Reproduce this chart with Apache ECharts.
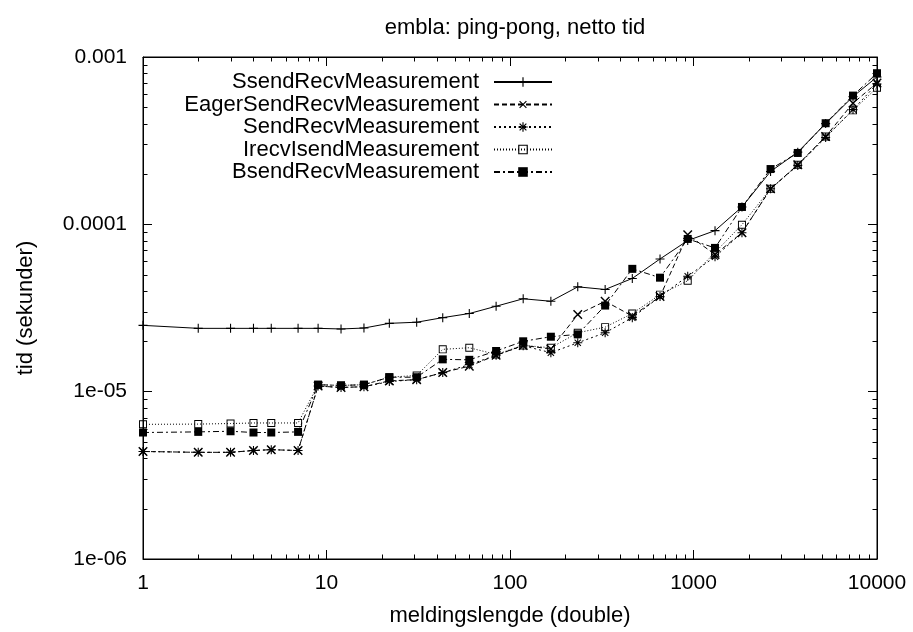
<!DOCTYPE html>
<html><head><meta charset="utf-8">
<script src="https://cdn.jsdelivr.net/npm/echarts@6/dist/echarts.min.js"></script>
<style>html,body{margin:0;padding:0;background:#fff}#c{width:913px;height:632px}</style>
</head><body><div id="c"></div>
<script>
const sizes = [1,2,3,4,5,7,9,12,16,22,31,43,60,84,118,167,234,330,464,657,930,1310,1837,2630,3700,5250,7400,10000];
const ssend = [2.49e-5,2.39e-5,2.39e-5,2.39e-5,2.39e-5,2.39e-5,2.39e-5,2.37e-5,2.4e-5,2.56e-5,2.6e-5,2.77e-5,2.93e-5,3.24e-5,3.59e-5,3.47e-5,4.23e-5,4.08e-5,4.75e-5,6.21e-5,8.0e-5,9.17e-5,1.27e-4,2.07e-4,2.7e-4,4.0e-4,5.8e-4,7.6e-4];
const eager = [4.39e-6,4.34e-6,4.34e-6,4.45e-6,4.5e-6,4.45e-6,1.08e-5,1.06e-5,1.07e-5,1.16e-5,1.18e-5,1.3e-5,1.42e-5,1.65e-5,1.89e-5,1.8e-5,2.89e-5,3.47e-5,2.83e-5,3.7e-5,8.67e-5,6.6e-5,8.9e-5,1.63e-4,2.27e-4,3.35e-4,5.3e-4,7.0e-4];
const sendr = [4.39e-6,4.34e-6,4.34e-6,4.45e-6,4.5e-6,4.45e-6,1.08e-5,1.06e-5,1.07e-5,1.15e-5,1.18e-5,1.3e-5,1.45e-5,1.65e-5,1.88e-5,1.71e-5,1.96e-5,2.25e-5,2.77e-5,3.7e-5,4.9e-5,6.4e-5,8.9e-5,1.63e-4,2.25e-4,3.3e-4,4.85e-4,6.9e-4];
const irecv = [6.38e-6,6.4e-6,6.45e-6,6.5e-6,6.5e-6,6.5e-6,1.1e-5,1.09e-5,1.1e-5,1.22e-5,1.25e-5,1.79e-5,1.83e-5,1.67e-5,1.89e-5,1.83e-5,2.25e-5,2.43e-5,2.93e-5,3.8e-5,4.6e-5,6.8e-5,9.95e-5,1.63e-4,2.27e-4,3.35e-4,4.8e-4,6.56e-4];
const bsend = [5.7e-6,5.75e-6,5.8e-6,5.7e-6,5.7e-6,5.75e-6,1.1e-5,1.09e-5,1.1e-5,1.22e-5,1.22e-5,1.56e-5,1.55e-5,1.75e-5,2.0e-5,2.13e-5,2.2e-5,3.27e-5,5.42e-5,4.8e-5,8.18e-5,7.23e-5,1.27e-4,2.14e-4,2.67e-4,4.02e-4,5.88e-4,8.0e-4];
const seriesNames = ['SsendRecvMeasurement','EagerSendRecvMeasurement','SendRecvMeasurement','IrecvIsendMeasurement','BsendRecvMeasurement'];
const xTickLabels = {'0':'1','1':'10','2':'100','3':'1000','4':'10000'};
const yTickLabels = {'-6':'1e-06','-5':'1e-05','-4':'0.0001','-3':'0.001'};
const xMinor = [2,3,4,5,6,7,8,9,20,30,40,50,60,70,80,90,200,300,400,500,600,700,800,900,2000,3000,4000,5000,6000,7000,8000,9000];
const yMinor = [2e-6,3e-6,4e-6,5e-6,6e-6,7e-6,8e-6,9e-6,2e-5,3e-5,4e-5,5e-5,6e-5,7e-5,8e-5,9e-5,2e-4,3e-4,4e-4,5e-4,6e-4,7e-4,8e-4,9e-4];

const FONT = 'Liberation Sans, Arial, Helvetica, sans-serif';
const X_MIN = 1, X_MAX = 10000, Y_MIN = 1e-6, Y_MAX = 1e-3;
const P_PLUS = 'path://M4.4,0H5.6V4.4H10V5.6H5.6V10H4.4V5.6H0V4.4H4.4Z';
const P_STAR = 'path://M4.4,0H5.6V4.4H10V5.6H5.6V10H4.4V5.6H0V4.4H4.4Z M1.92,1.08L8.92,8.08L8.08,8.92L1.08,1.92Z M8.92,1.92L1.92,8.92L1.08,8.08L8.08,1.08Z';
const P_BOX = 'path://M0,0H10V10H0Z M1.2,1.2V8.8H8.8V1.2Z';
const MINOR_LEN = 4.5;

function pairs(ys){ return sizes.map((x,i)=>[x, ys[i]]); }

function mkLine(name, ys, symbol, size, dash, rot){
  return {
    name, type:'line', data: pairs(ys), symbol, symbolSize: size, symbolRotate: rot||0,
    showSymbol:true, showAllSymbol:true, animation:false,
    itemStyle:{color:'#000'},
    lineStyle:{color:'#000', width:1, type: dash},
    emphasis:{disabled:true}
  };
}

const chart = echarts.init(document.getElementById('c'), null, {renderer:'canvas'});
const axisCommon = {
  type:'log', logBase:10,
  axisLine:{show:true, lineStyle:{color:'#000', width:1}},
  axisTick:{show:true, inside:true, length:9, lineStyle:{color:'#000', width:1}},
  splitLine:{show:false}, minorTick:{show:false}, minorSplitLine:{show:false}
};
chart.setOption({
  animation:false,
  backgroundColor:'#fff',
  title:{text:'embla: ping-pong, netto tid', left:510, top:12, textAlign:'center',
    textStyle:{fontFamily:FONT, fontSize:22, fontWeight:'normal', color:'#000'}},
  grid:{left:143, right:36, top:57, bottom:72, show:true, borderColor:'#000', borderWidth:1, containLabel:false},
  legend:{
    data: seriesNames, orient:'vertical', align:'right', right:355, top:66,
    itemWidth:58, itemHeight:12, itemGap:0.5,
    textStyle:{fontFamily:FONT, fontSize:22, color:'#000', padding:[0,10,0,0]},
    selectedMode:false
  },
  xAxis:[
    Object.assign({}, axisCommon, {min:X_MIN, max:X_MAX, position:'bottom',
      name:'meldingslengde (double)', nameLocation:'middle', nameGap:46,
      nameTextStyle:{fontFamily:FONT, fontSize:22, color:'#000'},
      axisLabel:{show:true, margin:14, fontFamily:FONT, fontSize:21, color:'#000',
        formatter:v=>xTickLabels[String(Math.round(Math.log10(v)))] || ''}}),
    Object.assign({}, axisCommon, {min:X_MIN, max:X_MAX, position:'top', axisLabel:{show:false}})
  ],
  yAxis:[
    Object.assign({}, axisCommon, {min:Y_MIN, max:Y_MAX, position:'left',
      name:'tid (sekunder)', nameLocation:'middle', nameGap:106, nameRotate:90,
      nameTextStyle:{fontFamily:FONT, fontSize:22, color:'#000'},
      axisLabel:{show:true, margin:16, fontFamily:FONT, fontSize:21, color:'#000',
        formatter:v=>yTickLabels[String(Math.round(Math.log10(v)))] || ''}}),
    Object.assign({}, axisCommon, {min:Y_MIN, max:Y_MAX, position:'right', axisLabel:{show:false}})
  ],
  series:[
    {
      type:'custom', name:'xminor', silent:true, animation:false, xAxisIndex:0, yAxisIndex:0,
      data: xMinor.map(v=>[v, Y_MIN]),
      renderItem:(params, api)=>{
        const v = api.value(0);
        const b = api.coord([v, Y_MIN]), t = api.coord([v, Y_MAX]);
        return {type:'group', children:[
          {type:'line', shape:{x1:Math.round(b[0])+0.5, y1:b[1], x2:Math.round(b[0])+0.5, y2:b[1]-MINOR_LEN}, style:{stroke:'#000', lineWidth:1}},
          {type:'line', shape:{x1:Math.round(t[0])+0.5, y1:t[1], x2:Math.round(t[0])+0.5, y2:t[1]+MINOR_LEN}, style:{stroke:'#000', lineWidth:1}}
        ]};
      }
    },
    {
      type:'custom', name:'yminor', silent:true, animation:false, xAxisIndex:0, yAxisIndex:0,
      data: yMinor.map(v=>[X_MIN, v]),
      renderItem:(params, api)=>{
        const v = api.value(1);
        const l = api.coord([X_MIN, v]), r = api.coord([X_MAX, v]);
        return {type:'group', children:[
          {type:'line', shape:{x1:l[0], y1:Math.round(l[1])+0.5, x2:l[0]+MINOR_LEN, y2:Math.round(l[1])+0.5}, style:{stroke:'#000', lineWidth:1}},
          {type:'line', shape:{x1:r[0], y1:Math.round(r[1])+0.5, x2:r[0]-MINOR_LEN, y2:Math.round(r[1])+0.5}, style:{stroke:'#000', lineWidth:1}}
        ]};
      }
    },
    mkLine(seriesNames[0], ssend, P_PLUS, 9, 'solid'),
    mkLine(seriesNames[1], eager, P_PLUS, 12, [5,3], 45),
    mkLine(seriesNames[2], sendr, P_STAR, 9, [2,3]),
    mkLine(seriesNames[3], irecv, P_BOX, 8, [1,2]),
    mkLine(seriesNames[4], bsend, 'rect', 8, [6,3,2,3])
  ]
});
</script></body></html>
